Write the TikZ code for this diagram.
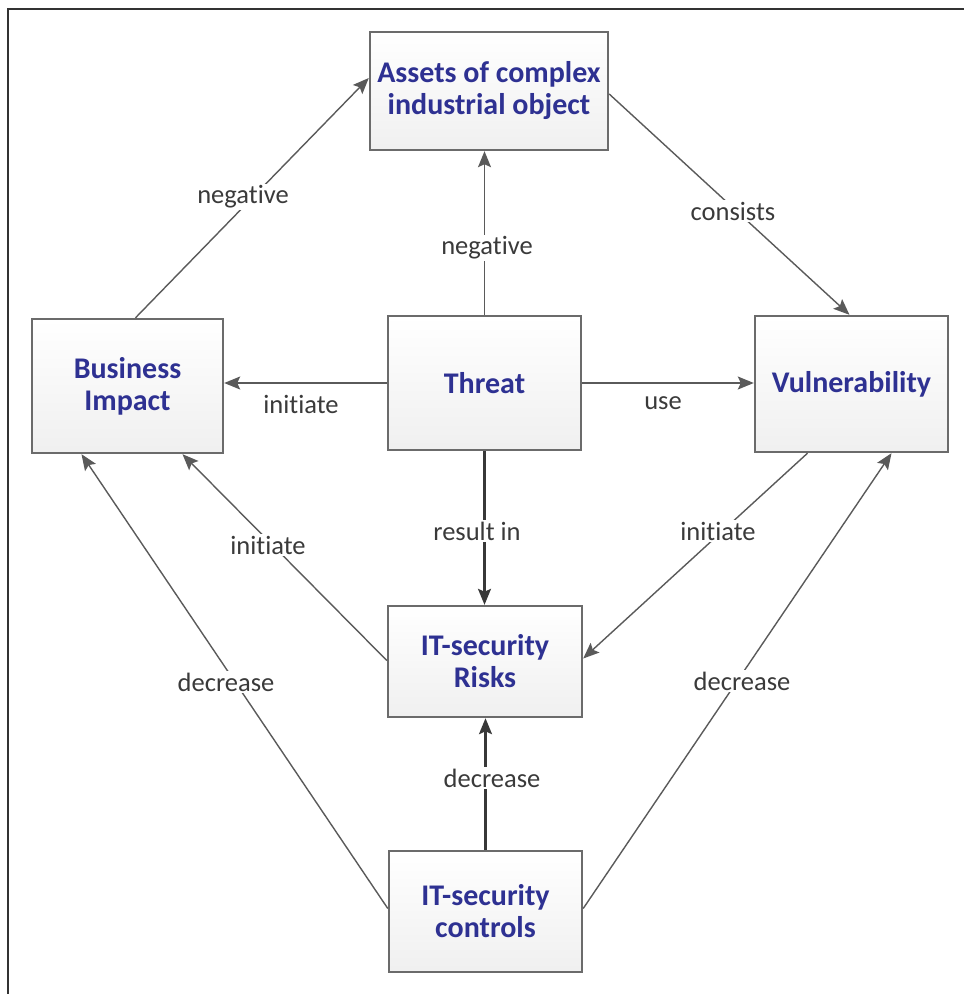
\documentclass[tikz,border=0pt]{standalone}
\usepackage{fontspec}
\setmainfont[Ligatures={NoCommon,NoRequired,NoContextual}]{Carlito}
\usetikzlibrary{arrows.meta,calc}

\definecolor{boxblue}{HTML}{2E3192}
\definecolor{boxedge}{HTML}{6B6B6B}
\definecolor{linegray}{HTML}{5A5A5A}
\definecolor{linedark}{HTML}{383838}
\definecolor{labelgray}{HTML}{3A3A3A}
\definecolor{framegray}{HTML}{333333}

\tikzset{
  concept/.style={rectangle, draw=boxedge, line width=2.4pt,
    top color=white, bottom color=black!6,
    align=center, text=boxblue,
    font=\bfseries\fontsize{30}{32}\selectfont},
  link/.style={draw=linegray, line width=1.4pt,
    -{Stealth[length=16pt,width=13pt,inset=3pt]}},
  strong link/.style={link, draw=linedark, line width=2.2pt},
  relation/.style={fill=white, text=labelgray, inner sep=2pt,
    font=\fontsize{26.5}{30}\selectfont},
}

\begin{document}
\begin{tikzpicture}[x=1pt,y=-1pt]
  \useasboundingbox (0,0) rectangle (964,994);

  % frame edges
  \draw[framegray, line width=2pt] (8,994) -- (8,9) -- (964,9);

  % concepts
  \node[concept, minimum width=238pt, minimum height=118pt] (as) at (489,91)
    {Assets of complex\\industrial object};
  \node[concept, minimum width=191pt, minimum height=134pt] (bi) at (127.5,386)
    {Business\\Impact};
  \node[concept, minimum width=193pt, minimum height=134pt] (th) at (484.5,383)
    {Threat};
  \node[concept, minimum width=193pt, minimum height=136pt] (vu) at (851.5,384)
    {Vulnerability};
  \node[concept, minimum width=194pt, minimum height=111pt] (ri) at (485,661.5)
    {IT-security\\Risks};
  \node[concept, minimum width=193pt, minimum height=121pt] (co) at (485.5,911.5)
    {IT-security\\controls};

  % anchor points on the box edges
  \coordinate (bi-top)   at ($(bi.north)+(8,0)$);
  \coordinate (as-left)  at ($(as.west)+(0,-13)$);
  \coordinate (as-right) at ($(as.east)+(0,3)$);
  \coordinate (vu-top)   at ($(vu.north)+(-2,0)$);
  \coordinate (vu-bl)    at ($(vu.south)+(-44,0)$);
  \coordinate (vu-br)    at ($(vu.south)+(40,0)$);
  \coordinate (ri-right) at ($(ri.east)+(0,-3)$);
  \coordinate (ri-left)  at ($(ri.west)+(0,-1)$);
  \coordinate (bi-br)    at ($(bi.south)+(55,0)$);
  \coordinate (bi-bl)    at ($(bi.south)+(-46,0)$);
  \coordinate (co-left)  at ($(co.west)+(0,-3)$);
  \coordinate (co-right) at ($(co.east)+(0,-3)$);

  % connectors
  \draw[link] (bi-top) -- (as-left);
  \draw[link] (th.north) -- (th.north |- as.south);
  \draw[link] (as-right) -- (vu-top);
  \draw[link] (th.west) -- (th.west -| bi.east);
  \draw[link] (th.east) -- (th.east -| vu.west);
  \draw[strong link] (th.south) -- (th.south |- ri.north);
  \draw[link] (vu-bl) -- (ri-right);
  \draw[link] (ri-left) -- (bi-br);
  \draw[link] (co-left) -- (bi-bl);
  \draw[link] (co-right) -- (vu-br);
  \draw[strong link] (co.north) -- (co.north |- ri.south);

  % relation labels
  \node[relation] (l1)  at (243,197) {negative};
  \node[relation] (l2)  at (487,248) {negative};
  \node[relation] (l3)  at (733,211) {consists};
  \node[relation] (l4)  at (301,404) {initiate};
  \node[relation] (l5)  at (663,403) {use};
  \node[relation] (l6)  at (268,545) {initiate};
  \node[relation] (l7)  at (477,531) {result in};
  \node[relation] (l8)  at (718,531) {initiate};
  \node[relation] (l9)  at (226,682) {decrease};
  \node[relation] (l10) at (492,778) {decrease};
  \node[relation] (l11) at (742,681) {decrease};
\end{tikzpicture}
\end{document}
